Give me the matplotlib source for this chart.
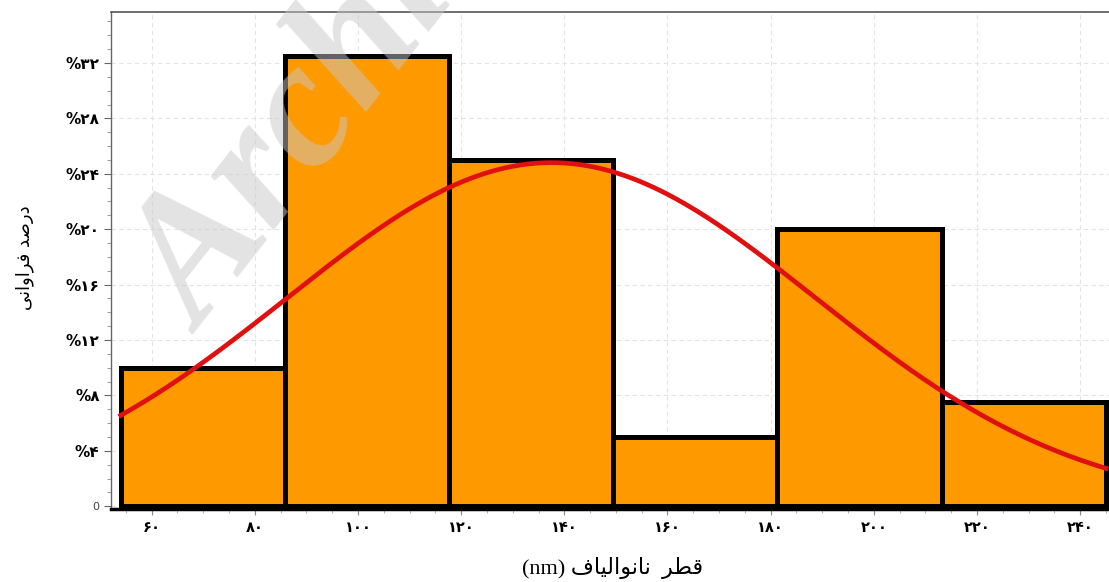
import numpy as np
import matplotlib.pyplot as plt
from matplotlib.ticker import MultipleLocator, FixedLocator

# histogram of nanofibre diameters (nm) and share of each bin (%)
bin_edges = [54, 85.8, 117.7, 149.5, 181.3, 213.2, 245]
percents = [10, 32.5, 25, 5, 20, 7.5]

# normal fit drawn over the histogram
fit_mean = 137.5
fit_std = 51.2

x_ticks = [60, 80, 100, 120, 140, 160, 180, 200, 220, 240]
x_labels = ['۶۰', '۸۰', '۱۰۰', '۱۲۰', '۱۴۰', '۱۶۰', '۱۸۰', '۲۰۰', '۲۲۰', '۲۴۰']
y_ticks = [0, 4, 8, 12, 16, 20, 24, 28, 32]
y_labels = ['0', '%۴', '%۸', '%۱۲', '%۱۶', '%۲۰', '%۲۴', '%۲۸', '%۳۲']

# matplotlib does no arabic shaping, so the words are given as
# presentation forms in reading order and flipped for display
word_qotr = '\uFED7\uFEC4\uFEAE'
word_nanoalyaf = '\uFEE7\uFE8E\uFEE7\uFEEE\uFE8D\uFEDF\uFEF4\uFE8E\uFED1'
word_darsad = '\uFEA9\uFEAD\uFEBB\uFEAA'
word_faravani = '\uFED3\uFEAE\uFE8D\uFEED\uFE8D\uFEE7\uFEF0'

x_title = '(nm) ' + word_nanoalyaf[::-1] + '  ' + word_qotr[::-1]
y_title = word_faravani[::-1] + ' ' + word_darsad[::-1]

fig = plt.figure(figsize=(11.09, 5.82), dpi=100)
ax = fig.add_axes([0.0998, 0.1254, 0.9002, 0.8545])

edges = np.array(bin_edges)
widths = np.diff(edges)
ax.bar(edges[:-1], percents, width=widths, align='edge', color='#FF9900',
       edgecolor='black', linewidth=3.6, zorder=2)

# fitted curve, scaled to percent per bin
xs = np.linspace(edges[0], edges[-1], 400)
pdf = np.exp(-0.5 * ((xs - fit_mean) / fit_std) ** 2) / (fit_std * np.sqrt(2 * np.pi))
ax.plot(xs, 100 * widths.mean() * pdf, color='#E01010', linewidth=3.4, zorder=3)

ax.set_xlim(52.05, 245.6)
ax.set_ylim(-0.2, 35.7)

ax.xaxis.set_major_locator(FixedLocator(x_ticks))
ax.xaxis.set_minor_locator(MultipleLocator(5))
ax.set_xticklabels(x_labels, fontsize=10.5, fontweight='bold', family='DejaVu Sans')
ax.yaxis.set_major_locator(FixedLocator(y_ticks))
ax.yaxis.set_minor_locator(MultipleLocator(1))
ax.set_yticklabels(y_labels, fontsize=11, fontweight='bold', family='DejaVu Sans')
zero = ax.get_yticklabels()[0]
zero.set_fontweight('normal')
zero.set_fontsize(8)
zero.set_color('#444444')

ax.tick_params(axis='x', which='major', length=4, width=0.8, color='#888888', pad=4)
ax.tick_params(axis='x', which='minor', length=3, width=0.6, color='#aaaaaa')
ax.tick_params(axis='y', which='major', length=5, width=0.8, color='#666666', pad=3)
ax.tick_params(axis='y', which='minor', length=3, width=0.6, color='#888888')

ax.grid(which='major', color='#e4e4e4', linestyle=(0, (4, 3)), linewidth=0.8)
ax.set_axisbelow(True)

ax.spines['right'].set_visible(False)
ax.spines['top'].set_color('#555555')
ax.spines['top'].set_linewidth(1.2)
ax.spines['left'].set_color('#666666')
ax.spines['left'].set_linewidth(1.0)
ax.spines['bottom'].set_color('black')
ax.spines['bottom'].set_linewidth(2.5)

fig.text(613 / 1109, 1 - 568 / 582, x_title, ha='center', va='center',
         fontsize=16, family=['Liberation Serif', 'DejaVu Sans'])
fig.text(25 / 1109, 1 - 258 / 582, y_title, ha='center', va='center',
         rotation=90, fontsize=13, family='DejaVu Sans')

# faint watermark that lies over the plot
fig.text(202 / 1109, 1 - 335 / 582, 'Archive', rotation=52, rotation_mode='anchor',
         ha='left', va='baseline', fontsize=130, family='Liberation Serif',
         fontweight='bold', style='italic', color=(0.78, 0.78, 0.78), alpha=0.5)

fig.savefig('out.png', dpi=100)
plt.close(fig)
